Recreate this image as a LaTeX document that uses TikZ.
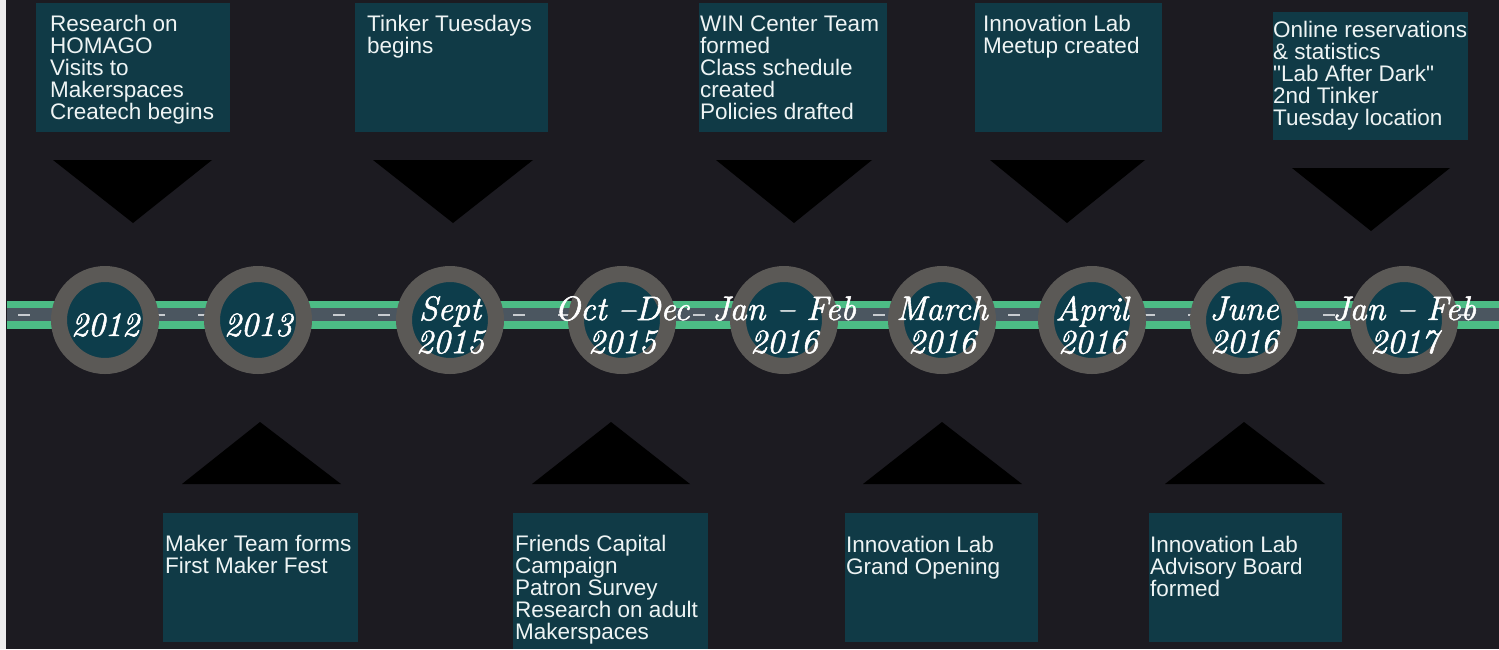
\documentclass[tikz,border=0pt]{standalone}
\usepackage{fontspec}
\newfontfamily\boxfont{Liberation Sans}
\newfontfamily\datefont{Latin Modern Roman}[ItalicFeatures={FakeBold=1.6}]
\usetikzlibrary{calc}
\definecolor{bgc}{HTML}{1C1B21}
\definecolor{boxc}{HTML}{103A46}
\definecolor{innerc}{HTML}{0D3D4B}
\definecolor{ringc}{HTML}{5B5956}
\definecolor{greenc}{HTML}{4CBC85}
\definecolor{roadc}{HTML}{4B5660}
\definecolor{dashc}{HTML}{C8CCD0}
\definecolor{txtc}{HTML}{EEF4F4}
\definecolor{edgec}{HTML}{EDEDED}
\begin{document}
\begin{tikzpicture}[x=1pt,y=-1pt,
  box/.style={anchor=north west, fill=boxc, inner sep=0pt, outer sep=0pt},
  txt/.style={anchor=base west, align=left, inner sep=0pt, text=txtc,
    font=\boxfont\fontsize{22.5}{22}\selectfont},
  ring/.style={circle, minimum size=92pt, inner sep=0pt, fill=innerc, draw=ringc, line width=16pt},
  datelbl/.style={align=center, inner sep=0pt, text=white, yshift=-5pt,
    font=\datefont\itshape\fontsize{34}{33}\selectfont},
  pointer/.style={fill=black}]
% background
\fill[bgc] (0,0) rectangle (1499,649);
\useasboundingbox (0,0) rectangle (1499,649);
\fill[edgec] (0,0) rectangle (6,649);
% road
\fill[greenc] (7,301) rectangle (1499,329);
\fill[roadc] (7,308) rectangle (1499,321);
\draw[dashc, line width=2pt, dash pattern=on 12pt off 33pt] (18,314.5) -- (1499,314.5);
% circles
\node[ring] (c1) at (105,320) {};
\node[ring] (c2) at (258,320) {};
\node[ring] (c3) at (450,320) {};
\node[ring] (c4) at (622,320) {};
\node[ring] (c5) at (784,320) {};
\node[ring] (c6) at (942,320) {};
\node[ring] (c7) at (1092,320) {};
\node[ring] (c8) at (1244,320) {};
\node[ring] (c9) at (1404,320) {};
\node[datelbl] (d1) at (c1) {2012};
\node[datelbl] (d2) at (c2) {2013};
\node[datelbl] (d3) at (c3) {Sept\\2015};
\node[datelbl] (d4) at (c4) {Oct –Dec\\2015};
\node[datelbl] (d5) at (c5) {Jan – Feb\\2016};
\node[datelbl] (d6) at (c6) {March\\2016};
\node[datelbl] (d7) at (c7) {April\\2016};
\node[datelbl] (d8) at (c8) {June\\2016};
\node[datelbl] (d9) at (c9) {Jan – Feb\\2017};
% top boxes
\node[box, minimum width=194pt, minimum height=129pt] (b1) at (36,3) {};
\node[box, minimum width=193pt, minimum height=129pt] (b3) at (355,3) {};
\node[box, minimum width=188pt, minimum height=129pt] (b5) at (699,3) {};
\node[box, minimum width=187pt, minimum height=129pt] (b7) at (975,3) {};
\node[box, minimum width=195pt, minimum height=128pt] (b9) at (1273,12) {};
% text nodes anchored at the baseline of their last line
\node[txt] (t1) at (50,119) {Research on\\HOMAGO\\Visits to\\Makerspaces\\Createch begins};
\node[txt] (t3) at (367,53) {Tinker Tuesdays\\begins};
\node[txt] (t5) at (700,119) {WIN Center Team\\formed\\Class schedule\\created\\Policies drafted};
\node[txt] (t7) at (983,53) {Innovation Lab\\Meetup created};
\node[txt] (t9) at (1273,125) {Online reservations\\\& statistics\\"Lab After Dark"\\2nd Tinker\\Tuesday location};
% bottom boxes
\node[box, minimum width=195pt, minimum height=129pt] (b2) at (163,513) {};
\node[box, minimum width=195pt, minimum height=136pt] (b4) at (513,513) {};
\node[box, minimum width=193pt, minimum height=129pt] (b6) at (845,513) {};
\node[box, minimum width=193pt, minimum height=129pt] (b8) at (1149,513) {};
\node[txt] (t2) at (165,573) {Maker Team forms\\First Maker Fest};
\node[txt] (t4) at (515,639) {Friends Capital\\Campaign\\Patron Survey\\Research on adult\\Makerspaces};
\node[txt] (t6) at (846,574) {Innovation Lab\\Grand Opening};
\node[txt] (t8) at (1150,596) {Innovation Lab\\Advisory Board\\formed};
% pointers (top, pointing down)
\fill[pointer] (53,160) -- (212,160) -- (133,223) -- cycle;
\fill[pointer] (373,160) -- (533,160) -- (453,223) -- cycle;
\fill[pointer] (716,160) -- (872,160) -- (794,223) -- cycle;
\fill[pointer] (990,160) -- (1145,160) -- (1067,223) -- cycle;
\fill[pointer] (1292,168) -- (1450,168) -- (1371,231) -- cycle;
% pointers (bottom, pointing up)
\fill[pointer] (182,484) -- (341,484) -- (260,422) -- cycle;
\fill[pointer] (532,484) -- (690,484) -- (611,422) -- cycle;
\fill[pointer] (863,484) -- (1022,484) -- (942,422) -- cycle;
\fill[pointer] (1165,484) -- (1325,484) -- (1244,422) -- cycle;
\end{tikzpicture}
\end{document}
